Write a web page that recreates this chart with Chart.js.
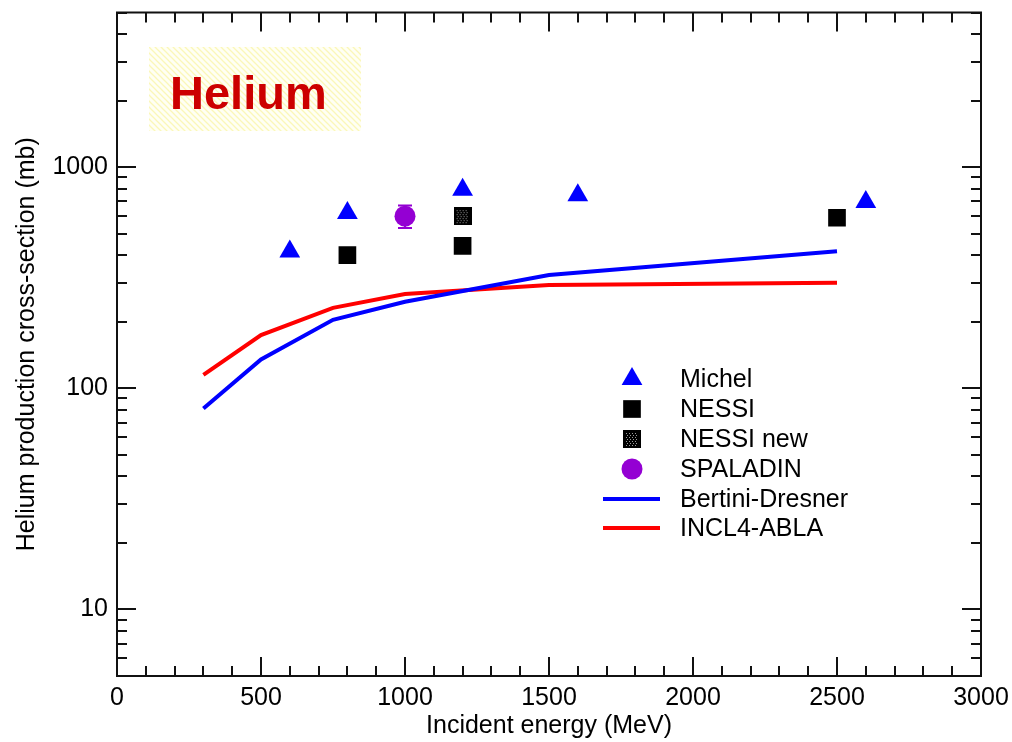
<!DOCTYPE html>
<html>
<head>
<meta charset="utf-8">
<script src="https://cdn.jsdelivr.net/npm/chart.js@4/dist/chart.umd.min.js"></script>
<style>
  html, body { margin: 0; padding: 0; background: #fff; }
</style>
</head>
<body>
<canvas id="dataChart" width="1012" height="742"></canvas>
<script>
// Helium production cross-section vs incident energy

// measured points
var michelEnergy = [600, 800, 1200, 1600, 2600];
var michelXs     = [415, 620, 790, 745, 695];
var nessiEnergy  = [800, 1200, 2500];
var nessiXs      = [400, 440, 590];
var nessiNewEnergy = [1200];
var nessiNewXs     = [600];
var spaladinEnergy = [1000];
var spaladinXs     = [600];
var spaladinErr    = [70];

// model curves
var modelEnergy = [300, 500, 750, 1000, 1500, 2500];
var bertiniXs   = [81, 135, 204, 246, 325, 416];
var inclXs      = [115, 174, 231, 267, 293, 300];

// axis ticks
var energyTicks = [0, 500, 1000, 1500, 2000, 2500, 3000];
var xsTicks     = [10, 100, 1000];

function pts(xs, ys) {
	return xs.map(function (x, i) { return { x: x, y: ys[i] }; });
}

// textured square for "NESSI new"
var nessiNewImg = document.createElement('canvas');
nessiNewImg.width = 18; nessiNewImg.height = 18;
(function () {
	var c = nessiNewImg.getContext('2d');
	c.fillStyle = '#000';
	c.fillRect(0, 0, 18, 18);
	c.fillStyle = '#9a9a9a';
	for (var i = 3; i < 15; i += 3) {
		for (var j = 3; j < 16; j += 2) {
			c.fillRect(i + (j % 4 === 1 ? 1 : 0), j, 1, 1);
		}
	}
})();

// hatched background of the "Helium" label
var hatch = document.createElement('canvas');
hatch.width = 6; hatch.height = 6;
(function () {
	var c = hatch.getContext('2d');
	c.fillStyle = '#fffff4';
	c.fillRect(0, 0, 6, 6);
	c.strokeStyle = '#fbf7b8';
	c.lineWidth = 1.3;
	c.beginPath();
	c.moveTo(0, 0); c.lineTo(6, 6);
	c.moveTo(-3, 3); c.lineTo(3, 9);
	c.moveTo(3, -3); c.lineTo(9, 3);
	c.stroke();
})();

var framePlugin = {
	id: 'frame',
	beforeDatasetsDraw: function (chart) {
		var ctx = chart.ctx;
		// label box
		ctx.save();
		ctx.fillStyle = ctx.createPattern(hatch, 'repeat');
		ctx.fillRect(149, 47, 212, 84);
		ctx.fillStyle = '#cc0000';
		ctx.font = 'bold 47px "Liberation Sans", Arial, sans-serif';
		ctx.textBaseline = 'alphabetic';
		ctx.fillText('Helium', 170, 109);
		ctx.restore();

		// error bars
		var xs = chart.scales.x, ys = chart.scales.y;
		ctx.save();
		ctx.strokeStyle = '#9400d3';
		ctx.lineWidth = 2;
		spaladinEnergy.forEach(function (e, i) {
			var px = xs.getPixelForValue(e);
			var top = ys.getPixelForValue(spaladinXs[i] + spaladinErr[i]);
			var bot = ys.getPixelForValue(spaladinXs[i] - spaladinErr[i]);
			ctx.beginPath();
			ctx.moveTo(px, top); ctx.lineTo(px, bot);
			ctx.moveTo(px - 7, top); ctx.lineTo(px + 7, top);
			ctx.moveTo(px - 7, bot); ctx.lineTo(px + 7, bot);
			ctx.stroke();
		});
		ctx.restore();
	},
	afterDraw: function (chart) {
		var ctx = chart.ctx, a = chart.chartArea;
		var xs = chart.scales.x, ys = chart.scales.y;
		ctx.save();
		ctx.strokeStyle = '#111';
		ctx.lineWidth = 2;
		ctx.strokeRect(a.left, a.top, a.right - a.left, a.bottom - a.top);
		ctx.beginPath();
		// x ticks, inside, bottom and top
		for (var v = 0; v <= 3000; v += 100) {
			var px = Math.round(xs.getPixelForValue(v));
			var len = (v % 500 === 0) ? 19 : 10;
			ctx.moveTo(px, a.bottom); ctx.lineTo(px, a.bottom - len);
			ctx.moveTo(px, a.top); ctx.lineTo(px, a.top + len);
		}
		// y ticks, inside, left and right
		[1, 10, 100, 1000].forEach(function (d) {
			for (var m = 1; m <= 9; m++) {
				var val = d * m;
				if (val < 5 || val > 5000) continue;
				var py = Math.round(ys.getPixelForValue(val));
				var len = (m === 1) ? 19 : 10;
				ctx.moveTo(a.left, py); ctx.lineTo(a.left + len, py);
				ctx.moveTo(a.right, py); ctx.lineTo(a.right - len, py);
			}
		});
		ctx.stroke();
		ctx.restore();

		// legend
		var rows = [379, 409, 439, 469, 499, 528];
		ctx.save();
		ctx.font = '25px "Liberation Sans", Arial, sans-serif';
		ctx.textBaseline = 'middle';
		ctx.fillStyle = '#000';
		chart.data.datasets.forEach(function (ds, i) {
			var y = rows[i];
			if (ds.showLine) {
				ctx.strokeStyle = ds.borderColor;
				ctx.lineWidth = ds.borderWidth;
				ctx.beginPath();
				ctx.moveTo(603, y); ctx.lineTo(660, y);
				ctx.stroke();
			} else {
				ctx.fillStyle = ds.backgroundColor;
				ctx.strokeStyle = ds.borderColor;
				Chart.helpers.drawPoint(ctx, {
					pointStyle: ds.pointStyle, radius: ds.pointRadius, rotation: 0, borderWidth: 0
				}, 632, y);
			}
			ctx.fillStyle = '#000';
			ctx.fillText(ds.label, 680, y + 1);
		});
		ctx.restore();
	}
};

var ctx = document.getElementById('dataChart');

var chart = new Chart(ctx, {
	type: 'scatter',
	data: {
		datasets: [{
			label: 'Michel',
			data: pts(michelEnergy, michelXs),
			pointStyle: 'triangle', pointRadius: 12,
			backgroundColor: '#0000ff', borderColor: '#0000ff', borderWidth: 0
		}, {
			label: 'NESSI',
			data: pts(nessiEnergy, nessiXs),
			pointStyle: 'rect', pointRadius: 12.5,
			backgroundColor: '#000', borderColor: '#000', borderWidth: 0
		}, {
			label: 'NESSI new',
			data: pts(nessiNewEnergy, nessiNewXs),
			pointStyle: nessiNewImg, pointRadius: 9,
			backgroundColor: '#000', borderColor: '#000', borderWidth: 0
		}, {
			label: 'SPALADIN',
			data: pts(spaladinEnergy, spaladinXs),
			pointStyle: 'circle', pointRadius: 10.5,
			backgroundColor: '#9400d3', borderColor: '#9400d3', borderWidth: 0
		}, {
			label: 'Bertini-Dresner',
			data: pts(modelEnergy, bertiniXs),
			showLine: true, pointRadius: 0, fill: false,
			borderColor: '#0000ff', borderWidth: 4
		}, {
			label: 'INCL4-ABLA',
			data: pts(modelEnergy, inclXs),
			showLine: true, pointRadius: 0, fill: false,
			borderColor: '#ff0000', borderWidth: 4
		}]
	},
	options: {
		responsive: false,
		animation: false,
		layout: { padding: { top: 9, right: 31, left: 0, bottom: 0 } },
		font: { family: '"Liberation Sans", Arial, sans-serif' },
		plugins: { legend: { display: false }, tooltip: { enabled: false } },
		scales: {
			x: {
				type: 'linear', min: 0, max: 3000,
				afterBuildTicks: function (s) { s.ticks = energyTicks.map(function (v) { return { value: v }; }); },
				afterFit: function (s) { s.height = 66; s.paddingLeft = 0; s.paddingRight = 0; },
				grid: { display: false, drawTicks: false },
				border: { display: false },
				ticks: {
					padding: 7, autoSkip: false, maxRotation: 0, color: '#000',
					font: { size: 25, family: '"Liberation Sans", Arial, sans-serif' },
					callback: function (v) { return String(v); }
				},
				title: {
					display: true, text: 'Incident energy (MeV)', color: '#000',
					font: { size: 25, family: '"Liberation Sans", Arial, sans-serif' },
					padding: { top: 0, bottom: 1 }
				}
			},
			y: {
				type: 'logarithmic', min: 5, max: 5000,
				afterBuildTicks: function (s) { s.ticks = xsTicks.map(function (v) { return { value: v }; }); },
				afterFit: function (s) { s.width = 117; s.paddingTop = 0; s.paddingBottom = 0; },
				grid: { display: false, drawTicks: false },
				border: { display: false },
				ticks: {
					padding: 9, autoSkip: false, color: '#000',
					font: { size: 25, family: '"Liberation Sans", Arial, sans-serif' },
					callback: function (v) { return String(v); }
				},
				title: {
					display: true, text: 'Helium production cross-section (mb)', color: '#000',
					font: { size: 25, family: '"Liberation Sans", Arial, sans-serif' },
					padding: { top: 12, bottom: 0 }
				}
			}
		}
	},
	plugins: [framePlugin]
});
</script>
</body>
</html>
